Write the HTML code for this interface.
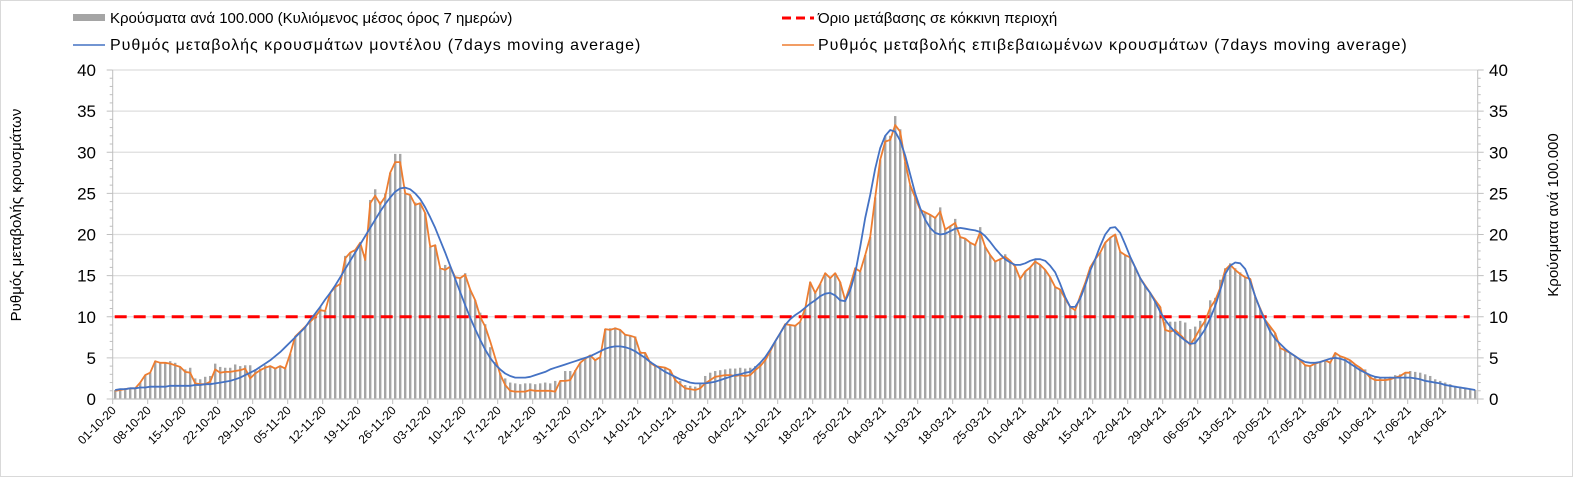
<!DOCTYPE html>
<html><head><meta charset="utf-8"><style>
html,body{margin:0;padding:0;background:#fff;}
svg{display:block;font-family:"Liberation Sans","DejaVu Sans",sans-serif;}
</style></head><body>
<svg id="chart" width="1573" height="477" viewBox="0 0 1573 477" xmlns="http://www.w3.org/2000/svg">
<rect x="0.5" y="0.5" width="1572" height="476" fill="#fff" stroke="#d9d9d9"/>
<g id="grid"></g>
<g id="bars"></g>
<g id="axes"></g>
<g id="lines"></g>
<g font-size="15" fill="#000">
  <rect x="73" y="14" width="32" height="7" fill="#a5a5a5"/>
  <text x="110" y="23">Κρούσματα ανά 100.000 (Κυλιόμενος μέσος όρος 7 ημερών)</text>
  <line x1="782" y1="18" x2="814" y2="18" stroke="#ff0000" stroke-width="3" stroke-dasharray="9,5"/>
  <text x="818" y="23">Όριο μετάβασης σε κόκκινη περιοχή</text>
  <line x1="73" y1="45" x2="105" y2="45" stroke="#4472c4" stroke-width="1.5"/>
  <text x="110" y="50" font-size="16" letter-spacing="1">Ρυθμός μεταβολής κρουσμάτων μοντέλου (7days moving average)</text>
  <line x1="782" y1="45" x2="814" y2="45" stroke="#ed7d31" stroke-width="1.5"/>
  <text x="818" y="50" font-size="16" letter-spacing="1">Ρυθμός μεταβολής επιβεβαιωμένων κρουσμάτων (7days moving average)</text>
</g>
<text transform="translate(21,215) rotate(-90)" text-anchor="middle" font-size="15">Ρυθμός μεταβολής κρουσμάτων</text>
<text transform="translate(1558,215) rotate(-90)" text-anchor="middle" font-size="15">Κρούσματα ανά 100.000</text>
</svg>
<script>
const yTicks = [0,5,10,15,20,25,30,35,40];
const threshold = [10];
const tickLabels = ["01-10-20","08-10-20","15-10-20","22-10-20","29-10-20","05-11-20","12-11-20","19-11-20","26-11-20","03-12-20","10-12-20","17-12-20","24-12-20","31-12-20","07-01-21","14-01-21","21-01-21","28-01-21","04-02-21","11-02-21","18-02-21","25-02-21","04-03-21","11-03-21","18-03-21","25-03-21","01-04-21","08-04-21","15-04-21","22-04-21","29-04-21","06-05-21","13-05-21","20-05-21","27-05-21","03-06-21","10-06-21","17-06-21","24-06-21"];
const confirmed = [
1.0,1.1,1.2,1.3,1.3,2.0,2.9, 3.2,4.6,4.4,4.4,4.3,4.1,3.9, 3.3,3.2,1.9,1.8,1.8,2.1,3.6, 3.2,3.3,3.3,3.4,3.5,3.7,2.5,
3.1,3.5,3.8,4.0,3.7,4.0,3.7, 5.5,7.6,8.2,8.8,9.4,10.0,10.8, 10.7,12.9,13.6,14.0,17.1,17.8,18.1, 19.0,16.9,23.8,24.7,23.7,24.6,27.5,
28.8,28.8,25.0,24.8,23.6,23.8,22.6, 18.5,18.7,15.9,15.7,16.1,14.8,14.7, 15.1,13.3,12.0,10.0,8.8,7.0,5.0, 3.0,1.7,1.0,0.9,0.9,0.9,1.1,
1.0,1.0,1.0,1.0,0.9,2.2,2.2, 2.3,3.4,4.4,4.9,5.3,4.7,5.1, 8.5,8.4,8.6,8.4,7.8,7.7,7.5, 5.6,5.6,4.4,4.0,3.9,3.8,3.5,
2.3,1.8,1.3,1.2,1.1,1.3,1.9, 2.3,2.7,2.8,2.9,2.9,2.8,2.9, 2.8,2.9,3.5,4.0,4.7,5.8,7.0, 8.0,9.1,9.0,8.9,9.4,11.0,14.2,
12.9,14.0,15.3,14.7,15.3,14.2,12.0, 13.8,15.9,15.5,17.5,19.7,24.5,29.1, 31.3,31.5,33.3,32.5,28.8,26.0,24.5, 23.0,22.7,22.4,22.0,22.8,20.6,21.0,
21.4,19.7,19.5,19.0,18.7,20.3,18.5, 17.5,16.7,17.0,17.3,16.8,16.1,14.6, 15.5,16.0,16.7,16.3,15.7,14.8,13.6, 13.3,12.2,11.2,10.8,12.5,14.1,16.0,
17.0,17.8,19.0,19.6,20.0,17.9,17.5, 17.2,16.0,14.7,13.8,12.9,12.0,11.2, 8.4,8.2,8.4,7.8,7.2,6.6,7.5, 8.6,9.5,11.1,12.0,13.5,15.7,16.3,
15.7,15.2,14.8,14.6,12.4,11.0,9.6, 8.8,8.0,6.2,5.9,5.6,5.2,4.7, 4.1,4.0,4.3,4.5,4.7,4.4,5.6, 5.2,5.0,4.7,4.2,3.8,3.3,2.6,
2.3,2.3,2.3,2.4,2.6,2.8,3.2, 3.2];
const model = [
1.1,1.2,1.2,1.3,1.3,1.4,1.4, 1.5,1.5,1.5,1.5,1.6,1.6,1.6, 1.6,1.6,1.7,1.7,1.8,1.8,1.9, 2.0,2.1,2.2,2.4,2.6,2.9,3.2,
3.5,3.9,4.3,4.7,5.2,5.7,6.3, 6.9,7.5,8.1,8.7,9.6,10.4,11.2, 12.1,12.9,13.8,14.8,15.8,16.8,17.8, 18.8,19.8,20.8,21.8,22.8,23.7,24.5,
25.2,25.6,25.7,25.5,25.0,24.3,23.3, 22.1,20.8,19.3,17.8,16.2,14.6,13.0, 11.4,9.9,8.5,7.2,6.0,5.0,4.2, 3.6,3.1,2.8,2.6,2.6,2.6,2.7,
2.9,3.1,3.3,3.6,3.8,4.0,4.2, 4.4,4.6,4.8,5.0,5.2,5.5,5.8, 6.1,6.3,6.4,6.4,6.3,6.1,5.8, 5.4,5.0,4.5,4.1,3.7,3.3,3.0,
2.7,2.4,2.2,2.0,1.9,1.9,1.9, 2.0,2.1,2.3,2.5,2.7,2.9,3.0, 3.2,3.3,3.8,4.4,5.1,6.0,7.0, 8.0,9.0,9.7,10.2,10.6,11.1,11.6,
12.0,12.5,12.8,12.9,12.6,12.0,11.9, 13.2,15.3,18.5,22.0,24.8,28.0,30.5, 32.0,32.7,32.5,31.4,29.6,27.3,25.0, 23.2,21.8,20.8,20.2,20.0,20.1,20.4,
20.7,20.8,20.7,20.6,20.5,20.3,19.8, 19.1,18.3,17.6,17.0,16.6,16.3,16.3, 16.5,16.8,17.0,17.0,16.8,16.2,15.4, 14.0,12.4,11.2,11.2,12.2,13.8,15.6,
17.0,18.6,20.0,20.8,20.9,20.2,18.8, 17.3,16.0,14.7,13.7,12.9,11.8,10.6, 9.6,8.8,8.1,7.6,7.1,6.7,6.8, 7.6,8.5,9.8,11.3,13.2,15.2,16.2,
16.6,16.5,15.8,14.3,12.5,10.9,9.5, 8.2,7.3,6.7,6.1,5.6,5.2,4.8, 4.5,4.4,4.4,4.5,4.7,4.9,5.0, 4.9,4.7,4.3,3.9,3.5,3.2,2.9,
2.7,2.6,2.6,2.6,2.6,2.6,2.6, 2.6,2.5,2.4,2.2,2.1,2.0,1.9, 1.7,1.6,1.5,1.4,1.3,1.2,1.1];
const cases = [
1.1,1.2,1.3,1.3,1.3,2.0,2.9, 3.2,4.6,4.5,4.5,4.6,4.4,3.9, 3.6,3.8,2.5,2.4,2.7,2.8,4.3, 3.9,3.8,3.8,4.2,4.0,4.1,4.1,
3.6,3.7,4.1,4.0,3.7,4.0,3.7, 5.5,7.6,8.2,8.8,9.4,10.4,11.2, 10.7,12.9,13.6,14.0,17.4,17.8,18.1, 19.0,17.6,24.2,25.5,24.0,25.0,27.5,
29.8,29.8,25.0,24.8,23.9,23.8,22.6, 18.5,18.7,15.9,16.3,16.1,14.8,14.7, 15.3,13.3,12.0,10.5,9.1,6.3,4.5, 3.2,2.5,2.0,1.9,1.8,1.9,1.9,
1.8,1.9,2.0,1.9,2.2,2.2,3.4, 3.4,3.5,4.4,4.9,5.3,4.7,5.1, 8.5,8.6,8.7,8.4,7.9,7.7,7.6, 5.8,5.6,4.6,4.1,3.9,3.8,3.5,
2.7,2.2,1.7,1.6,1.5,2.0,2.8, 3.2,3.4,3.5,3.6,3.7,3.7,3.8, 3.7,3.8,4.0,4.3,4.8,5.8,7.0, 8.0,9.1,9.0,8.9,9.4,11.0,14.2,
12.9,14.0,15.3,14.7,15.3,14.2,12.0, 13.8,15.9,15.5,17.5,19.7,24.5,29.1, 32.0,32.0,34.4,32.8,28.8,26.0,24.5, 23.0,22.7,22.4,22.0,23.3,20.6,21.0,
21.9,19.7,19.5,19.0,18.7,20.9,18.5, 17.5,16.7,17.0,17.6,16.8,16.1,14.6, 15.5,16.0,17.0,16.3,15.7,14.8,13.6, 13.3,12.2,11.2,10.8,12.5,14.1,16.0,
17.0,17.8,19.0,19.6,20.0,17.9,17.5, 17.2,16.0,14.7,13.8,12.9,12.0,11.2, 9.4,9.4,9.4,9.5,9.3,8.5,8.8, 9.5,9.8,12.0,12.3,14.5,15.9,16.5,
15.9,15.4,14.8,14.6,12.4,11.0,9.6, 8.8,8.0,6.2,5.9,5.6,5.2,4.7, 4.1,4.0,4.3,4.5,4.7,4.6,5.6, 5.2,5.0,4.7,4.2,3.8,3.6,2.9,
2.7,2.6,2.6,2.7,2.9,3.0,3.2, 3.4,3.3,3.2,3.0,2.8,2.4,2.2, 2.0,1.8,1.6,1.5,1.3,1.2,1.1];

const NS = "http://www.w3.org/2000/svg";
const X0 = 112.7, DAY = 5, Y0 = 399, YMAX = 40, YTOP = 70;
const nDays = model.length;
const xScale = d => X0 + d * DAY;
const xMid = d => X0 + d * DAY + DAY / 2;
const yScale = v => Y0 - v / YMAX * (Y0 - YTOP);
const XEND = xScale(nDays);
function mk(tag, attrs, parent) {
  const e = document.createElementNS(NS, tag);
  for (const k in attrs) e.setAttribute(k, attrs[k]);
  parent.appendChild(e);
  return e;
}
const grid = document.getElementById('grid');
const axes = document.getElementById('axes');
const barsG = document.getElementById('bars');
const linesG = document.getElementById('lines');

yTicks.forEach(v => {
  if (v > 0) {
    const g = mk('line', {x1: X0, x2: XEND, y1: yScale(v), y2: yScale(v), stroke: '#dedede', 'stroke-width': 1.3}, grid);
    
    
  }
  const tl = mk('text', {x: 96, y: yScale(v) + 6, 'text-anchor': 'end', 'font-size': 17}, axes);
  tl.textContent = v;
  
  
  const tr = mk('text', {x: 1489, y: yScale(v) + 6, 'text-anchor': 'start', 'font-size': 17}, axes);
  tr.textContent = v;
  
  
});
for (let v = 0; v <= YMAX; v++) {
  const len = v % 5 === 0 ? 6 : 3;
  mk('line', {x1: X0 - len, x2: X0, y1: yScale(v), y2: yScale(v), stroke: '#bfbfbf'}, axes);
  mk('line', {x1: XEND, x2: XEND + len, y1: yScale(v), y2: yScale(v), stroke: '#bfbfbf'}, axes);
}
const la = mk('line', {x1: X0, x2: X0, y1: YTOP, y2: Y0, stroke: '#bfbfbf'}, axes);


const ra = mk('line', {x1: XEND, x2: XEND, y1: YTOP, y2: Y0, stroke: '#bfbfbf'}, axes);



cases.forEach((v, d) => {
  const b = mk('rect', {x: xMid(d) - 1.2, y: yScale(v), width: 2.4, height: Y0 - yScale(v), fill: '#a5a5a5'}, barsG);
  
  
});

const xa = mk('line', {x1: X0, x2: XEND, y1: Y0, y2: Y0, stroke: '#bfbfbf', 'stroke-width': 1.3}, axes);


tickLabels.forEach((lab, i) => {
  const d = i * 7;
  const x = xScale(d);
  mk('line', {x1: x, x2: x, y1: Y0, y2: Y0 + 5, stroke: '#bfbfbf'}, axes);
  const t = mk('text', {transform: 'translate(' + (x + 4) + ',' + (Y0 + 12) + ') rotate(-45)', 'text-anchor': 'end', 'font-size': 12}, axes);
  t.textContent = lab;
  
  
});
mk('line', {x1: XEND, x2: XEND, y1: Y0, y2: Y0 + 5, stroke: '#bfbfbf'}, axes);

const th = mk('line', {x1: X0 + 2, x2: XEND - 8, y1: yScale(threshold[0]), y2: yScale(threshold[0]), stroke: '#ff0000', 'stroke-width': 3, 'stroke-dasharray': '12,7'}, linesG);



function pathOf(arr) {
  return arr.map((v, d) => (d ? 'L' : 'M') + xMid(d).toFixed(1) + ',' + yScale(v).toFixed(1)).join('');
}
const ol = mk('path', {d: pathOf(confirmed), fill: 'none', stroke: '#ed7d31', 'stroke-width': 1.8, 'stroke-linejoin': 'round'}, linesG);


const bl = mk('path', {d: pathOf(model), fill: 'none', stroke: '#4472c4', 'stroke-width': 1.8, 'stroke-linejoin': 'round'}, linesG);


</script>
</body></html>
